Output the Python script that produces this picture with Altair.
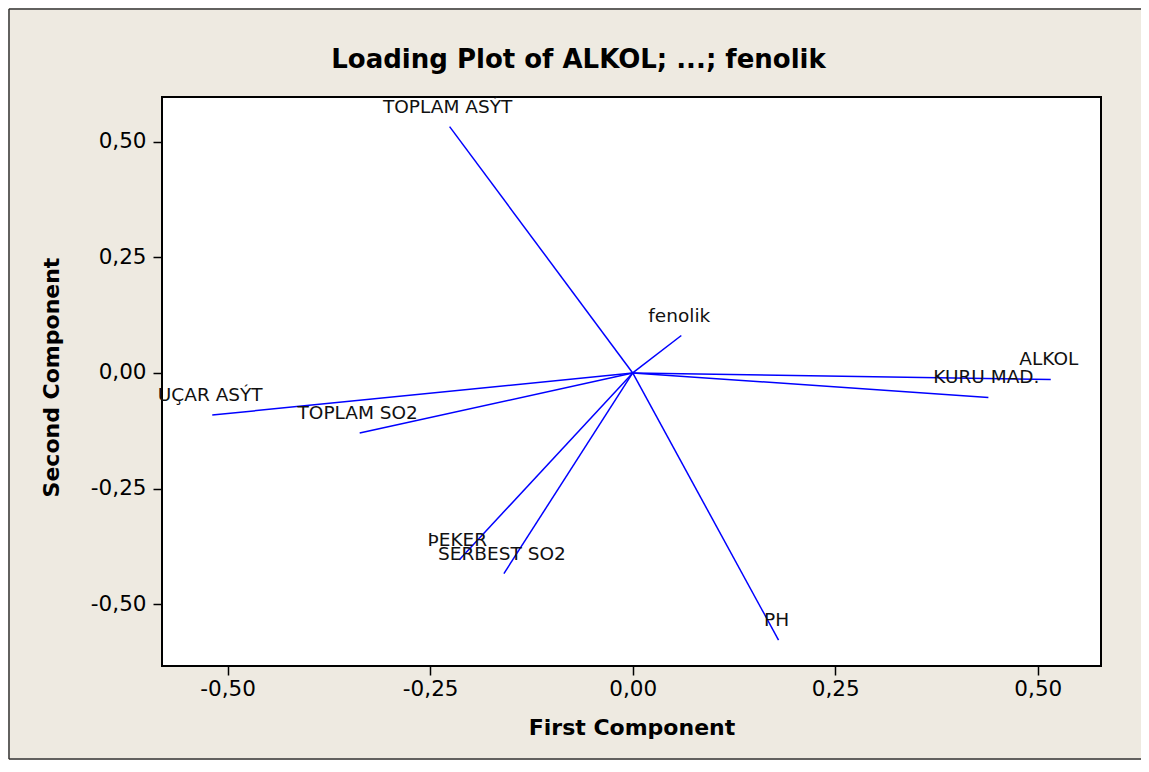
import altair as alt
import pandas as pd

# Loadings
names = ["ALKOL", "KURU MAD.", "fenolik", "TOPLAM ASÝT", "UÇAR ASÝT",
         "TOPLAM SO2", "ÞEKER", "SERBEST SO2", "PH"]
pc1 = [0.516, 0.439, 0.060, -0.226, -0.519, -0.337, -0.214, -0.159, 0.180]
pc2 = [-0.014, -0.053, 0.081, 0.533, -0.091, -0.130, -0.404, -0.434, -0.578]
tick_vals = [-0.50, -0.25, 0.00, 0.25, 0.50]

df = pd.DataFrame({"name": names, "x": pc1, "y": pc2,
                   "x0": [0.0] * len(names), "y0": [0.0] * len(names)})

W, H = 939, 569
PAD = {"left": 154, "top": 89, "right": 40, "bottom": 94}
FONT = "DejaVu Sans"
BG = "#EEEAE1"

fmt = "(datum.value < 0 ? '-' : '') + replace(format(abs(datum.value), '.2f'), '.', ',')"

xscale = alt.Scale(domain=[-0.581, 0.578], nice=False, zero=False)
yscale = alt.Scale(domain=[-0.634, 0.597], nice=False, zero=False)

xaxis = alt.Axis(values=tick_vals, labelExpr=fmt, title="First Component",
                 grid=False, domain=False, tickSize=9, tickWidth=1.5,
                 tickColor="black", labelColor="black", labelFontSize=21.5,
                 labelFont=FONT, labelPadding=3, titleFont=FONT,
                 titleFontSize=22, titleFontWeight="bold", titleColor="black",
                 titleY=68, titleBaseline="alphabetic")
yaxis = alt.Axis(values=tick_vals, labelExpr=fmt, title="Second Component",
                 grid=False, domain=False, tickSize=9, tickWidth=1.5,
                 tickColor="black", labelColor="black", labelFontSize=21.5,
                 labelFont=FONT, labelPadding=7, titleFont=FONT,
                 titleFontSize=22, titleFontWeight="bold", titleColor="black",
                 titleX=-104, titleY=280, titleBaseline="alphabetic")

base = alt.Chart(df)

lines = base.mark_rule(color="#0000FF", strokeWidth=1.5).encode(
    x=alt.X("x0:Q", scale=xscale, axis=xaxis),
    y=alt.Y("y0:Q", scale=yscale, axis=yaxis),
    x2="x:Q",
    y2="y:Q",
)

labels = base.mark_text(font=FONT, fontSize=18.5, color="#111111", align="center",
                        baseline="alphabetic", dx=-2, dy=-14).encode(
    x=alt.X("x:Q", scale=xscale),
    y=alt.Y("y:Q", scale=yscale),
    text="name:N",
)

one = alt.Data(values=[{"k": 1}])
frame_left = alt.Chart(one).mark_rule(color="#333333", strokeWidth=1.5).encode(
    x=alt.value(-153), y=alt.value(-88), y2=alt.value(H + PAD["bottom"] - 1))
frame_top = alt.Chart(one).mark_rule(color="#333333", strokeWidth=1.5).encode(
    x=alt.value(-153), x2=alt.value(W + PAD["right"]), y=alt.value(-88))
frame_bottom = alt.Chart(one).mark_rule(color="#333333", strokeWidth=1.5).encode(
    x=alt.value(-153), x2=alt.value(W + PAD["right"]),
    y=alt.value(H + PAD["bottom"] - 1))

chart = alt.layer(lines, labels, frame_left, frame_top, frame_bottom).properties(
    width=W, height=H,
    padding=PAD,
    autosize=alt.AutoSizeParams(type="none"),
    background=BG,
    title=alt.TitleParams("Loading Plot of ALKOL; ...; fenolik", font=FONT,
                          fontSize=26, fontWeight="bold", color="black",
                          anchor="middle", frame="group", dx=-53, dy=115,
                          baseline="alphabetic", offset=29),
).configure_view(fill="white", stroke="black", strokeWidth=2)

chart.save("out.html", embed_options={"renderer": "svg", "actions": False})
